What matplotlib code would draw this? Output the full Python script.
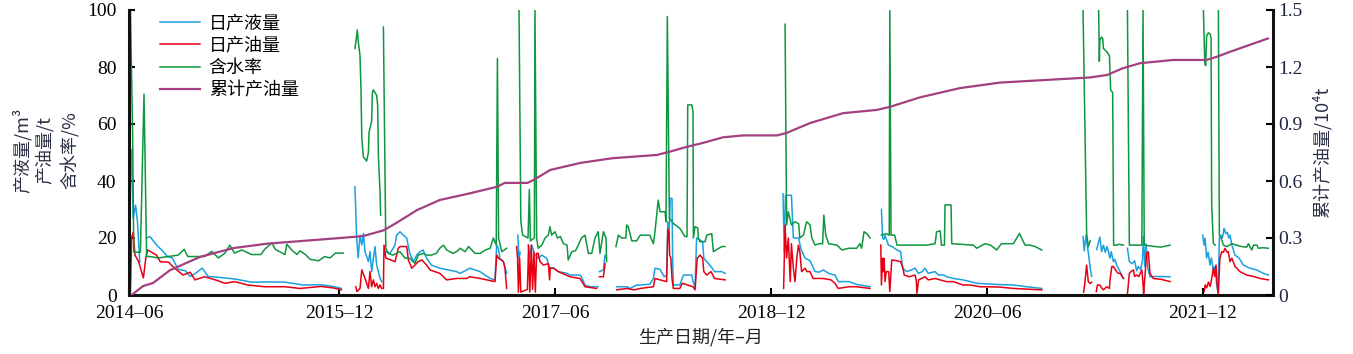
import numpy as np
import matplotlib
matplotlib.use('Agg')
import matplotlib.pyplot as plt

# (month counted from 2014-06, value); None marks a gap in the record
liquid = [(0.68, 51), (0.85, 27), (1.05, 31.5), (1.2, 26), (1.4, 11.5), None,
          (1.95, 20), (2.25, 20.5), (2.8, 17.5), (3.3, 15.5), (3.7, 13.5), (4.1, 13), (4.6, 9),
          (5.2, 8.5), (5.6, 6.5), (6.0, 7.5), (6.6, 9.4), (7.1, 6.5), (8.5, 6), (9.5, 5.5),
          (10.7, 4.5), (12.1, 4.6), (13.5, 4.5), (14.3, 4), (15, 3.5), (16.5, 3.6), (17.5, 3),
          (18.2, 2.3), None,
          (19.33, 38), (19.47, 20), (19.6, 13), (19.75, 21), (19.9, 17.5), (20.03, 21.6),
          (20.17, 15.2), (20.45, 11.7), (20.58, 15.2), (20.72, 8.2), (21.0, 17), (21.14, 10.5),
          (21.42, 5.8), (21.56, 4.7), None,
          (21.9, 15.2), (22.25, 14.6), (22.67, 17.5), (22.8, 21), (23.08, 22.2), (23.36, 21),
          (23.64, 20), (23.9, 14.6), (24.2, 11.7), (24.47, 14), (24.75, 15.2), (25.0, 15.8),
          (25.3, 12.9), (25.7, 10.5), (26.4, 9.4), (27.1, 8.8), (27.8, 8.2), (28.1, 7.6),
          (28.64, 8.8), (28.9, 9.4), (29.75, 8.2), (30.6, 5.8), (31.0, 5.3), (31.14, 17.5),
          (31.28, 16.4), (31.4, 12.9), (31.7, 11.7), (31.97, 7.6), None,
          (32.9, 21), (33.0, 13), (33.1, 15), None,
          (33.77, 17.5), (33.86, 13), (34.06, 17.5), (34.33, 14), (34.6, 12.9), (34.9, 14),
          (35.3, 12.9), (35.58, 9.4), (35.86, 9.6), (36.28, 8.2), (37.0, 7.6), (37.25, 7),
          (38.08, 7), (38.2, 6.4), (38.5, 3.5), (38.9, 2.9), (39.6, 2.9), None,
          (39.7, 8.2), (40.03, 8.8), (40.17, 14), (40.3, 12.9), None,
          (41.14, 2.9), (42.0, 2.9), (42.25, 2.3), (42.8, 3.5), (43.1, 3.5), (43.9, 3.8),
          (44.2, 5.8), (44.33, 9.4), (44.75, 9), (45.1, 6.4), (45.3, 7), (45.4, 25.7),
          (45.5, 20), (45.6, 33.9), (45.75, 33.9), (45.8, 12.9), (45.86, 3.5), (46.4, 3.5),
          (46.7, 7), (47.4, 7), (47.5, 4.7), (47.67, 2.9), (47.8, 20), (48.0, 19.5),
          (48.3, 18.7), (48.4, 12.9), (48.64, 11.7), (48.9, 10.5), (49.3, 8.2), (49.9, 8.2),
          (50.17, 7.6), None,
          (55.0, 35.5), (55.1, 15), (55.2, 35), (55.7, 35), (55.86, 20), (56.3, 20), (56.5, 16),
          (56.83, 13), (57.25, 12), (57.67, 8.2), (58.0, 8), (58.36, 8.8), (58.8, 7.6),
          (59.33, 7), (59.6, 4.7), (60.5, 4.7), (61.14, 3.7), (62.25, 2.9), None,
          (63.2, 30), (63.3, 20), (63.4, 19.5), (63.5, 21), (63.78, 17.5), (64.1, 17),
          (64.5, 15.8), (64.8, 15.2), (64.97, 9.4), (65.3, 8.2), (65.7, 8.8), (66.0, 9.4),
          (66.28, 7.6), (66.6, 8.2), (66.83, 9.4), (67.1, 7.6), (67.67, 8.2), (67.94, 7),
          (68.4, 7), (68.64, 6.4), (69.2, 5.8), (70.0, 5.3), (70.6, 4.7), (71.14, 4.1),
          (72.8, 3.7), (74.2, 3.5), (75.3, 2.9), (76.56, 2.3), None,
          (80.0, 20.5), (80.1, 15.5), (80.25, 21), (80.45, 14.6), (80.6, 9.4), (80.72, 6.5), None,
          (81.14, 16), (81.4, 20.3), (81.55, 15.2), (81.7, 17.5), (81.85, 15), (82.0, 17),
          (82.1, 15.5), (82.25, 12.9), (82.35, 15.2), (82.53, 11.7), (82.65, 12.5),
          (82.8, 10.5), (83.08, 8.2), (83.36, 5.8), None,
          (83.7, 16.4), (83.86, 11.7), (84.1, 11), (84.3, 12), (84.47, 8.5), (84.6, 10),
          (84.8, 9), (84.95, 12), (85.03, 20.5), (85.15, 10), (85.25, 18), (85.4, 9.4),
          (85.58, 6.4), (86.14, 6.5), (87.25, 6.4), None,
          (89.97, 21), (90.08, 17.5), (90.17, 20), (90.3, 13), (90.42, 15), (90.58, 10.5),
          (90.7, 13), (90.85, 9), (91.0, 10), (91.14, 3.5), (91.25, 0.5), (91.36, 20),
          (91.5, 21), (91.62, 20), (91.75, 23.4), (91.9, 21.5), (92.03, 22), (92.15, 20),
          (92.25, 21), (92.4, 17.5), (92.67, 14), (93.0, 13), (93.36, 10.5), (93.9, 9.4),
          (94.47, 8.8), (95.03, 7.6), (95.44, 7)]

oil = [(0.62, 1.2), (0.72, 20), (0.85, 22), (1.0, 14), (1.3, 11.7), (1.7, 6), (1.9, 13),
       (2.05, 15.8), (2.8, 14), (3.1, 11.7), (3.8, 11.5), (4.3, 9.4), (5.0, 7), (5.6, 8),
       (6.0, 5.3), (6.8, 6.4), (7.7, 5.3), (8.5, 4.1), (9.3, 4.7), (10.4, 3.5), (11.8, 2.9),
       (13.5, 2.9), (14.75, 2.3), (16.5, 3), (17.5, 2.5), (18.2, 1.8), None,
       (19.4, 2.9), (19.5, 1.2), (19.75, 2.3), (19.9, 8.8), (20.17, 5.8), (20.45, 2.3),
       (20.58, 8.2), (20.72, 2.9), (20.86, 5.3), (21.0, 2.9), (21.14, 4.1), (21.28, 2.3),
       (21.42, 3.5), (21.56, 2.3), None,
       (21.7, 2.3), (21.75, 17.5), (21.9, 13), (22.67, 11.7), (22.94, 16.4), (23.08, 17),
       (23.64, 17), (23.78, 12.3), (24.06, 9.4), (24.33, 10.5), (24.6, 11.7), (24.9, 12.3),
       (25.3, 10.5), (25.58, 8.8), (26.4, 7.6), (26.97, 5.3), (27.8, 5.8), (28.64, 5.8),
       (28.9, 6.4), (29.75, 5.8), (30.3, 5.3), (31.0, 4.7), (31.14, 14), (31.28, 13),
       (31.7, 11.7), (31.83, 9.4), (31.97, 2.3), None,
       (32.8, 17), (32.88, 13), (32.95, 1), (33.05, 13), (33.15, 1), (33.7, 2), (33.8, 17.5),
       (33.9, 1), (34.03, 17.5), (34.13, 2), (34.25, 15), (34.36, 1), (34.47, 14.6),
       (34.6, 14.6), (34.75, 11.7), (35.03, 10.5), (35.44, 11), (35.55, 5.3), (35.6, 9.4),
       (35.86, 9.4), (36.28, 8.2), (37.25, 6.4), (38.08, 5.8), (38.5, 2.9), (39.47, 2.3), None,
       (39.7, 6.4), (40.03, 6.4), (40.17, 11), None,
       (41.14, 1.8), (41.97, 2.3), (42.6, 1.8), (43.1, 2.3), (44.2, 2.9), (44.33, 5.8),
       (44.75, 5.3), (45.3, 4.7), (45.4, 23), (45.5, 22), (45.55, 14), (45.65, 13),
       (45.75, 5.8), (45.86, 2.3), (46.4, 2.3), (46.6, 4.1), (47.5, 2.9), (47.67, 1.8),
       (47.85, 12.9), (48.08, 14), (48.3, 12.9), (48.4, 8.2), (48.64, 7), (49.0, 8.2),
       (49.3, 5.8), (50.17, 5.3), None,
       (55.05, 2.3), (55.17, 24.6), (55.3, 13), (55.44, 20), (55.6, 4.7), (55.7, 18),
       (55.86, 9.4), (56.0, 4.7), (56.15, 12.9), (56.28, 17.5), (56.4, 15.2), (56.55, 8.2),
       (56.83, 9.4), (57.0, 8.2), (57.25, 8.2), (57.5, 5.8), (58.36, 5.8), (59.0, 5.3),
       (59.33, 4.1), (59.6, 2.3), (60.5, 2.9), (61.14, 2.9), (62.25, 2.3), None,
       (63.15, 17.5), (63.2, 3.5), (63.3, 12.9), (63.35, 8.2), (63.42, 12.9), (63.5, 4.7),
       (63.6, 8.2), (63.8, 8.2), (63.9, 1.2), (64.06, 12.3), (64.5, 12), (64.8, 11.7),
       (65.0, 9.4), (65.1, 7), (65.5, 6.4), (66.0, 7), (66.1, 5.3), (66.16, 0.6), (66.3, 5.3),
       (66.83, 6.4), (67.1, 5.3), (67.67, 5.8), (68.1, 5.3), (68.6, 4.7), (69.2, 4.7),
       (70.0, 3.5), (70.6, 3.5), (71.4, 2.9), (73.0, 2.8), (74.2, 2.3), (76.56, 1.8), None,
       (80.05, 1), (80.15, 4.1), (80.3, 10.5), (80.44, 4.7), (80.6, 4), (80.72, 4.5), None,
       (81.1, 1.2), (81.2, 3.5), (81.4, 3.5), (81.55, 2.5), (81.7, 1.8), (81.97, 2.9),
       (82.2, 2.3), (82.25, 5.3), (82.4, 10), (82.53, 10), (82.8, 8.2), (82.94, 7.6),
       (83.1, 7.6), (83.36, 5.8), None,
       (83.7, 0.3), (83.86, 7.6), (84.0, 8.2), (84.2, 8.8), (84.3, 6.5), (84.47, 7),
       (84.65, 6.5), (84.9, 8.8), (85.0, 4), (85.05, 0.5), (85.3, 14.6), (85.44, 15.2),
       (85.58, 7.6), (85.85, 5.8), (86.5, 5.5), (87.25, 4.7), None,
       (90.1, 1.2), (90.17, 3.5), (90.3, 2.5), (90.45, 4.5), (90.6, 3), (90.72, 5.8),
       (90.86, 9.4), (90.97, 6.5), (91.08, 10.5), (91.18, 3.5), (91.28, 0.6), (91.4, 12.9),
       (91.56, 15.2), (91.7, 15), (91.83, 16.4), (92.0, 15), (92.1, 15.2), (92.25, 11.7),
       (92.4, 12.9), (92.67, 10), (93.08, 8.2), (93.64, 7), (94.2, 6.5), (94.75, 5.8),
       (95.44, 5.3)]

water_cut = [(0.62, 100), (0.8, 57), (0.9, 15), (1.45, 15), (1.75, 70.5), (1.97, 13.5),
             (2.25, 13.5), (2.95, 13), (3.8, 13.5), (4.6, 14), (5.1, 16), (5.4, 13.5),
             (6.8, 13.5), (7.4, 15.3), (7.95, 13), (8.5, 14.7), (8.9, 17.5), (9.3, 14.7),
             (9.9, 15.8), (10.7, 14.2), (11.5, 14.2), (11.8, 16), (12.4, 18.3), (12.7, 16),
             (13.5, 14.2), (13.65, 17.8), (14.06, 15.8), (14.5, 14.2), (14.75, 15.5),
             (15.2, 14.2), (15.6, 12.5), (16.3, 12), (16.8, 13.5), (17.25, 13), (17.7, 14.7),
             (18.35, 14.7), None,
             (19.33, 86.5), (19.47, 91), (19.53, 93), (19.6, 89), (19.75, 84), (19.83, 72.5),
             (19.9, 55), (20.03, 48.5), (20.3, 47), (20.45, 50), (20.5, 57), (20.72, 61),
             (20.78, 71), (20.86, 72), (21.14, 70), (21.22, 66.7), (21.28, 49), (21.42, 36),
             (21.47, 28), None,
             (21.7, 94), (21.9, 16.4), (22.1, 14.6), (22.5, 14), (22.8, 14.6), (23.08, 15.2),
             (23.5, 12.9), (23.9, 12.9), (24.33, 11.1), (24.6, 14), (25.0, 14.6), (25.3, 14),
             (25.7, 14), (26.1, 14.6), (26.4, 16.4), (26.7, 17.5), (26.97, 15.8), (27.5, 14.6),
             (27.8, 15.2), (28.1, 16.4), (28.5, 15.2), (28.8, 17), (29.33, 14.6), (29.75, 14.6),
             (30.2, 15.8), (30.6, 16.4), (30.86, 20), (31.1, 17.5), (31.2, 83), (31.3, 20),
             (31.56, 15.2), (31.97, 16.4), None,
             (33.0, 100), (33.15, 26), (33.3, 21), (33.75, 20), (33.86, 37), (33.95, 19),
             (34.28, 20), (34.33, 100), (34.47, 20), (34.6, 16.4), (34.9, 17.5), (35.17, 20),
             (35.44, 21), (35.58, 24), (35.72, 21), (36.0, 22.2), (36.2, 20), (36.45, 20.5),
             (36.7, 18), (37.0, 17.5), (37.1, 12.3), (37.4, 15.2), (37.7, 15.5), (37.94, 17.5),
             (38.2, 20), (38.5, 21), (38.78, 14.6), (39.06, 14.6), (39.33, 20), (39.6, 22.2),
             (39.75, 14.6), (40.03, 22.2), (40.25, 20), (40.3, 11.7), None,
             (41.08, 17), (41.28, 21), (41.56, 20), (41.9, 20), (41.97, 24.6), (42.1, 24),
             (42.4, 19), (42.8, 19), (43.1, 21), (43.9, 21), (44.2, 18), (44.33, 22.2),
             (44.6, 33.3), (44.75, 29.2), (45.17, 29.2), (45.25, 25.7), (45.36, 97.7),
             (45.53, 26.9), (45.86, 25.1), (46.4, 23.4), (46.83, 20.5), (47.0, 20.5),
             (47.06, 66.7), (47.4, 66.7), (47.5, 64.3), (47.53, 20), (47.67, 24), (47.9, 23.5),
             (47.94, 20), (48.08, 18.7), (48.5, 18.7), (48.64, 21), (49.06, 21.5), (49.2, 15.2),
             (49.5, 16), (49.9, 17), (50.17, 17), None,
             (55.17, 95), (55.3, 24.6), (55.44, 29.2), (55.7, 24.6), (56.0, 25.7), (56.3, 25),
             (56.4, 20), (56.7, 21), (56.97, 25.7), (57.25, 24.6), (57.4, 20), (57.67, 17.5),
             (58.0, 18), (58.3, 18), (58.4, 28), (58.56, 21), (58.8, 18), (59.5, 17.5),
             (59.9, 15.8), (60.5, 16.4), (61.14, 16.4), (61.4, 18), (61.55, 16.4), (61.75, 22.2),
             (62.0, 21.5), (62.25, 20), None,
             (63.2, 21), (63.6, 21.5), (63.85, 21), (63.9, 100), (64.0, 21), (64.3, 21),
             (64.5, 17.5), (65.6, 17.5), (66.97, 17.5), (67.67, 18), (67.8, 22.2), (68.1, 22.5),
             (68.2, 17.5), (68.45, 17.5), (68.5, 31.6), (69.0, 31.6), (69.06, 18), (70.86, 17.5),
             (71.14, 16.4), (71.83, 18), (72.3, 17.5), (72.8, 15.8), (73.2, 18), (74.2, 18),
             (74.7, 21.6), (75.17, 17.5), (75.6, 17.5), (76.0, 17), (76.56, 15.8), None,
             (80.0, 100), (80.3, 21.6), (80.44, 17), (80.6, 19), None,
             (81.3, 100), (81.36, 82), (81.4, 89.5), (81.55, 90.5), (81.64, 90), (81.7, 86.5),
             (81.97, 85.4), (82.2, 84), (82.3, 72), (82.47, 71), (82.55, 17.5), (82.8, 17.5),
             (83.0, 17.8), (83.36, 17.5), None,
             (83.7, 100), (83.86, 17.5), (84.5, 17.5), (84.9, 17.5), (85.0, 100), (85.1, 17.5),
             (86.0, 17), (86.5, 16.8), (87.25, 17.5), None,
             (90.03, 100), (90.15, 81), (90.22, 80.5), (90.3, 91), (90.45, 92), (90.6, 91.5),
             (90.67, 90), (90.72, 31.6), (90.86, 18.1), (91.0, 17.5), None,
             (91.28, 100), (91.36, 21), (91.5, 20), (91.7, 17.5), (92.0, 17), (92.4, 18),
             (92.8, 17.5), (93.2, 17), (93.64, 16.8), (93.78, 18), (93.9, 17), (94.06, 15.8),
             (94.2, 17.5), (94.5, 17.5), (94.6, 16.4), (95.0, 16.6), (95.44, 16.4)]

# cumulative oil, 10^4 t
cum_oil = [(0.72, 0), (1.67, 0.047), (2.5, 0.063), (3.9, 0.13), (6.4, 0.2), (9.2, 0.247),
           (12, 0.27), (18.1, 0.3), (20, 0.31), (21.7, 0.34), (22.8, 0.38), (24.5, 0.447),
           (26.4, 0.5), (28.9, 0.535), (31.2, 0.57), (31.8, 0.59), (33.7, 0.59), (34.2, 0.605),
           (35.6, 0.658), (38.1, 0.695), (40.8, 0.72), (44.5, 0.737), (45.6, 0.755), (47, 0.78),
           (48.3, 0.8), (50, 0.83), (51.7, 0.84), (54.5, 0.84), (55.3, 0.853), (57.25, 0.905),
           (60, 0.957), (62.8, 0.974), (63.9, 0.99), (66.4, 1.04), (69.75, 1.089),
           (73.1, 1.118), (80.6, 1.145), (82, 1.158), (83.3, 1.193), (84.75, 1.22),
           (87.5, 1.237), (90.3, 1.237), (91.2, 1.255), (92.25, 1.28), (95.4, 1.35)]

tick_months = [0.5, 18, 36, 54, 72, 90]
tick_labels = ['2014–06', '2015–12', '2017–06', '2018–12', '2020–06', '2021–12']


def unpack(pts):
    xs, ys = [], []
    for p in pts:
        if p is None:
            xs.append(np.nan)
            ys.append(np.nan)
        else:
            xs.append(p[0])
            ys.append(p[1])
    return xs, ys


serif = 'Liberation Serif'
cjk = ['Noto Sans CJK SC', 'DejaVu Sans']
blue, red, green, purple = '#1ca0e0', '#e60012', '#0e9640', '#a3407f'
label_col = '#2a2f45'

fig = plt.figure(figsize=(13.53, 3.54), dpi=100)
ax = fig.add_axes([129 / 1353, 59 / 354, 1144 / 1353, 285 / 354])
ax2 = ax.twinx()

x, y = unpack(liquid)
l1, = ax.plot(x, y, color=blue, lw=1.1)
x, y = unpack(oil)
l2, = ax.plot(x, y, color=red, lw=1.1)
x, y = unpack(water_cut)
l3, = ax.plot(x, y, color=green, lw=1.1)
x, y = unpack(cum_oil)
l4, = ax2.plot(x, y, color=purple, lw=1.6)

ax.set_xlim(0.5, 95.83)
ax.set_ylim(0, 100)
ax2.set_ylim(0, 1.5)

ax.set_xticks(tick_months)
ax.set_xticklabels(tick_labels)
ax.set_yticks([0, 20, 40, 60, 80, 100])
ax2.set_yticks([0, 0.3, 0.6, 0.9, 1.2, 1.5])
ax2.set_yticklabels(['0', '0.3', '0.6', '0.9', '1.2', '1.5'])

for a in (ax, ax2):
    a.spines['top'].set_visible(False)
    for s in ('left', 'right', 'bottom'):
        a.spines[s].set_linewidth(2.2)
        a.spines[s].set_color('#111111')
ax.spines['right'].set_visible(False)
ax2.spines['left'].set_visible(False)
ax2.spines['bottom'].set_visible(False)

ax.tick_params(axis='x', direction='in', length=5, width=1.5, pad=7,
               labelsize=14, labelfontfamily=serif)
ax.tick_params(axis='y', direction='in', length=4, width=1.5, pad=9,
               labelsize=14, labelfontfamily=serif)
ax2.tick_params(axis='y', direction='in', length=5, width=1.5, pad=4,
                labelsize=14, labelfontfamily=serif, labelcolor='#1d2440')

# axis titles
fig.text(22 / 1353, 1 - 150 / 354, '产液量/m³', rotation=90, ha='center', va='center',
         fontsize=13, family=cjk, color=label_col)
fig.text(45 / 1353, 1 - 150 / 354, '产油量/t', rotation=90, ha='center', va='center',
         fontsize=13, family=cjk, color=label_col)
fig.text(70 / 1353, 1 - 150 / 354, '含水率/%', rotation=90, ha='center', va='center',
         fontsize=13, family=cjk, color=label_col)
fig.text(1322 / 1353, 1 - 152 / 354, '累计产油量/10⁴t', rotation=90, ha='center', va='center',
         fontsize=13, family=cjk, color=label_col)
fig.text(700 / 1353, 1 - 337 / 354, '生产日期/年–月', ha='center', va='center',
         fontsize=13, family=cjk, color='#222222')

ax.legend([l1, l2, l3, l4], ['日产液量', '日产油量', '含水率', '累计产油量'],
          loc='upper left', bbox_to_anchor=(160 / 1353, 1 - 14 / 354),
          bbox_transform=fig.transFigure, frameon=False, prop={'family': cjk, 'size': 13},
          handlelength=2.2, handletextpad=0.5, labelspacing=0.25, borderpad=0,
          borderaxespad=0)

fig.savefig('out.png', dpi=100)
